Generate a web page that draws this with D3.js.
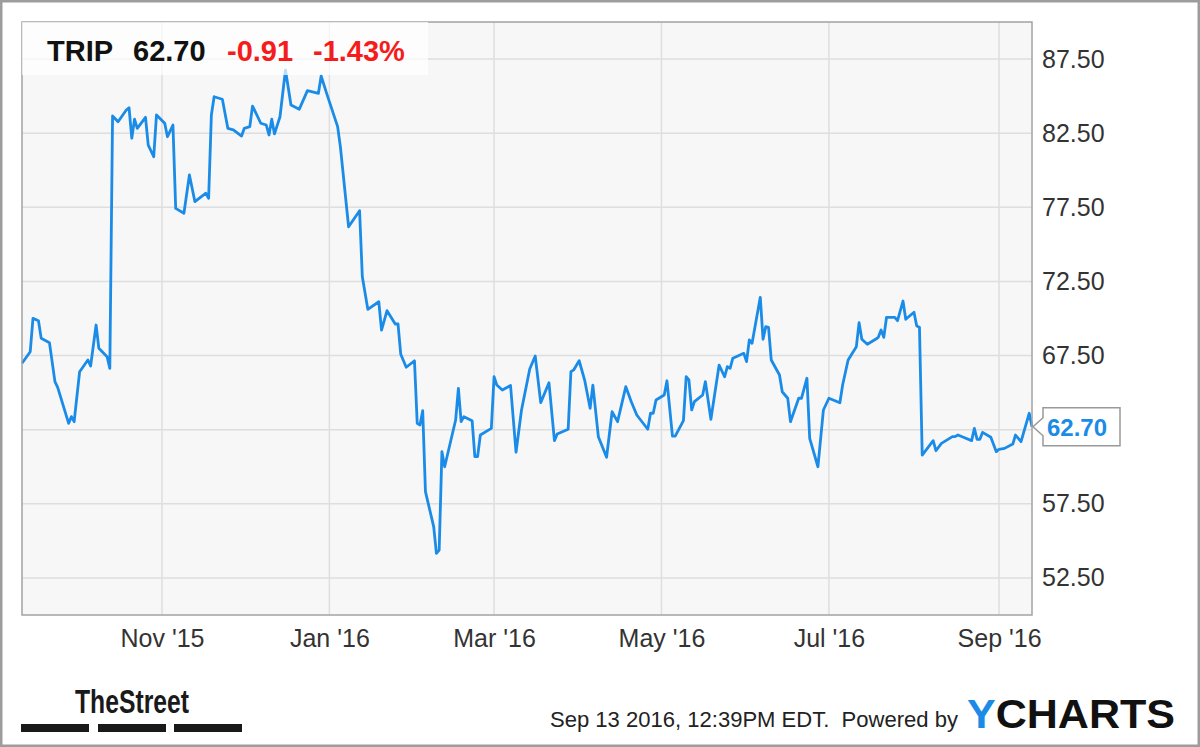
<!DOCTYPE html>
<html>
<head>
<meta charset="utf-8">
<script src="https://cdn.jsdelivr.net/npm/d3@7"></script>
<style>
  body { margin: 0; background: #fff; }
  svg { display: block; font-family: "Liberation Sans", Arial, sans-serif; }
</style>
</head>
<body>
<svg id="chart" width="1200" height="747"></svg>
<script>
// closing prices
var dates = [
  '2015-09-11','2015-09-14','2015-09-15','2015-09-17','2015-09-18','2015-09-21','2015-09-23','2015-09-24','2015-09-28','2015-09-29',
  '2015-09-30','2015-10-02','2015-10-05','2015-10-06','2015-10-08','2015-10-09','2015-10-12','2015-10-13','2015-10-14','2015-10-16',
  '2015-10-19','2015-10-20','2015-10-21','2015-10-22','2015-10-23','2015-10-26','2015-10-27','2015-10-29','2015-10-30','2015-11-02',
  '2015-11-03','2015-11-05','2015-11-06','2015-11-09','2015-11-11','2015-11-13','2015-11-17','2015-11-18','2015-11-19','2015-11-20',
  '2015-11-23','2015-11-25','2015-11-27','2015-11-30','2015-12-01','2015-12-03','2015-12-04','2015-12-07','2015-12-09','2015-12-10',
  '2015-12-11','2015-12-12','2015-12-14','2015-12-16','2015-12-18','2015-12-21','2015-12-24','2015-12-28','2015-12-29','2015-12-31',
  '2016-01-04','2016-01-05','2016-01-08','2016-01-12','2016-01-13','2016-01-15','2016-01-19','2016-01-20','2016-01-22','2016-01-25',
  '2016-01-26','2016-01-27','2016-01-29','2016-02-01','2016-02-02','2016-02-03','2016-02-04','2016-02-05','2016-02-08','2016-02-09',
  '2016-02-10','2016-02-11','2016-02-12','2016-02-16','2016-02-17','2016-02-18','2016-02-19','2016-02-22','2016-02-23','2016-02-24',
  '2016-02-25','2016-02-29','2016-03-01','2016-03-02','2016-03-04','2016-03-07','2016-03-09','2016-03-11','2016-03-14','2016-03-16',
  '2016-03-18','2016-03-21','2016-03-23','2016-03-24','2016-03-28','2016-03-29','2016-03-30','2016-04-01','2016-04-03','2016-04-05',
  '2016-04-06','2016-04-08','2016-04-11','2016-04-13','2016-04-15','2016-04-18','2016-04-20','2016-04-22','2016-04-26','2016-04-27',
  '2016-04-28','2016-04-29','2016-05-02','2016-05-03','2016-05-05','2016-05-06','2016-05-09','2016-05-10','2016-05-11','2016-05-12',
  '2016-05-13','2016-05-16','2016-05-17','2016-05-19','2016-05-22','2016-05-24','2016-05-25','2016-05-26','2016-05-27','2016-05-31',
  '2016-06-01','2016-06-02','2016-06-03','2016-06-06','2016-06-07','2016-06-08','2016-06-09','2016-06-10','2016-06-13','2016-06-14',
  '2016-06-16','2016-06-17','2016-06-20','2016-06-21','2016-06-23','2016-06-24','2016-06-27','2016-06-29','2016-07-01','2016-07-05',
  '2016-07-06','2016-07-08','2016-07-11','2016-07-12','2016-07-13','2016-07-15','2016-07-18','2016-07-19','2016-07-20','2016-07-21',
  '2016-07-22','2016-07-25','2016-07-26','2016-07-28','2016-07-29','2016-08-01','2016-08-02','2016-08-03','2016-08-04','2016-08-08',
  '2016-08-09','2016-08-11','2016-08-15','2016-08-16','2016-08-17','2016-08-19','2016-08-22','2016-08-23','2016-08-24','2016-08-25',
  '2016-08-26','2016-08-29','2016-08-31','2016-09-01','2016-09-03','2016-09-06','2016-09-07','2016-09-09','2016-09-12','2016-09-13'
];

var prices = [
  66.98, 67.76, 70.01, 69.85, 68.66, 68.37, 65.74, 65.36, 62.93, 63.38,
  63.04, 66.41, 67.20, 66.80, 69.56, 67.99, 67.42, 66.64, 83.66, 83.27,
  84.06, 84.22, 82.16, 83.44, 82.83, 83.57, 81.70, 80.91, 83.73, 83.17,
  82.26, 83.05, 77.43, 77.10, 79.68, 77.88, 78.45, 78.11, 83.73, 84.96,
  84.79, 82.83, 82.72, 82.31, 82.83, 82.94, 84.33, 83.17, 83.05, 82.38,
  83.44, 82.45, 83.61, 86.76, 84.40, 84.11, 85.37, 85.19, 86.36, 85.19,
  82.94, 81.59, 76.19, 77.27, 72.82, 70.62, 71.13, 69.22, 70.53, 69.63,
  69.63, 67.59, 66.71, 67.15, 62.93, 62.82, 63.78, 58.32, 55.96, 54.16,
  54.38, 61.02, 60.00, 63.15, 65.29, 63.04, 63.38, 63.11, 60.68, 60.68,
  62.14, 62.59, 66.07, 65.51, 65.18, 65.48, 60.98, 63.83, 66.59, 67.47,
  64.32, 65.67, 61.76, 62.21, 62.53, 66.41, 66.53, 67.15, 65.85, 63.94,
  65.51, 62.03, 60.64, 63.71, 63.04, 65.40, 64.39, 63.49, 62.53, 63.61,
  63.61, 64.50, 64.84, 65.80, 62.07, 62.07, 63.11, 66.07, 65.85, 63.83,
  64.39, 64.84, 65.74, 63.20, 66.86, 66.07, 66.75, 66.64, 67.32, 67.65,
  67.09, 68.55, 68.33, 71.43, 68.60, 69.45, 69.41, 67.20, 66.19, 65.06,
  64.62, 63.04, 64.62, 64.62, 65.97, 61.92, 60.00, 63.83, 64.62, 64.32,
  65.51, 67.20, 68.10, 69.72, 68.60, 68.26, 68.60, 68.73, 69.22, 68.73,
  70.08, 70.08, 69.85, 71.18, 69.95, 70.42, 69.49, 69.41, 60.79, 61.76,
  61.08, 61.58, 62.03, 62.03, 62.14, 61.99, 61.76, 62.59, 61.85, 61.85,
  62.32, 61.99, 61.02, 61.18, 61.24, 61.53, 62.14, 61.69, 63.61, 62.70
];

var xTickDates = ['2015-11-01', '2016-01-01', '2016-03-01', '2016-05-01', '2016-07-01', '2016-09-01'];
var yGridValues = [52.5, 57.5, 62.5, 67.5, 72.5, 77.5, 82.5, 87.5];
// 62.50 is hidden behind the last-price flag in the reference
var yLabelValues = [52.5, 57.5, 67.5, 72.5, 77.5, 82.5, 87.5];
var dateRange = ['2015-09-11', '2016-09-13'];
var priceRange = [50, 90];

var ticker = 'TRIP',
    lastPrice = 62.70,
    change = -0.91,
    changePct = -1.43;

function init() {
  var parse = d3.timeParse('%Y-%m-%d');
  var data = dates.map(function(d, i) { return { date: parse(d), price: prices[i] }; });

  var left = 22, top = 22, right = 1032, bottom = 615;
  var blue = '#1b8be8';

  var svg = d3.select('#chart');

  var x = d3.scaleTime()
    .domain(dateRange.map(parse))
    .range([left, right]);

  var y = d3.scaleLinear()
    .domain(priceRange)
    .range([bottom, top]);

  // outer frame
  svg.append('rect')
      .attr('x', 1.25).attr('y', 1.25)
      .attr('width', 1197.5).attr('height', 744.5)
      .attr('fill', '#fff')
      .attr('stroke', '#9d9d9d')
      .attr('stroke-width', 2.5);

  // plot background
  svg.append('rect')
      .attr('x', left).attr('y', top)
      .attr('width', right - left).attr('height', bottom - top)
      .attr('fill', '#f7f7f7');

  // grid
  var grid = svg.append('g').attr('class', 'grid')
      .attr('stroke', '#dedede')
      .attr('stroke-width', 1.5);

  grid.selectAll('line.h').data(yGridValues)
    .enter().append('line')
      .attr('class', 'h')
      .attr('x1', left).attr('x2', right)
      .attr('y1', function(d) { return y(d); })
      .attr('y2', function(d) { return y(d); });

  grid.selectAll('line.v').data(xTickDates.map(parse))
    .enter().append('line')
      .attr('class', 'v')
      .attr('x1', function(d) { return x(d); })
      .attr('x2', function(d) { return x(d); })
      .attr('y1', top).attr('y2', bottom);

  // price line
  var line = d3.line()
    .x(function(d) { return x(d.date); })
    .y(function(d) { return y(d.price); });

  svg.append('path')
      .datum(data)
      .attr('d', line)
      .attr('fill', 'none')
      .attr('stroke', blue)
      .attr('stroke-width', 2.8)
      .attr('stroke-linejoin', 'round');

  // plot border
  svg.append('rect')
      .attr('x', left).attr('y', top)
      .attr('width', right - left).attr('height', bottom - top)
      .attr('fill', 'none')
      .attr('stroke', '#a3a3a3')
      .attr('stroke-width', 1.5);

  // axes
  var yAxis = d3.axisRight(y)
    .tickValues(yLabelValues)
    .tickSize(0)
    .tickPadding(10)
    .tickFormat(d3.format('.2f'));

  var gy = svg.append('g')
      .attr('transform', 'translate(' + right + ',0)')
      .call(yAxis);
  gy.select('.domain').remove();
  gy.selectAll('text')
      .attr('font-family', '"Liberation Sans", Arial, sans-serif')
      .attr('font-size', 25)
      .attr('fill', '#333');

  var xAxis = d3.axisBottom(x)
    .tickValues(xTickDates.map(parse))
    .tickSize(0)
    .tickPadding(14)
    .tickFormat(d3.timeFormat("%b '%y"));

  var gx = svg.append('g')
      .attr('transform', 'translate(0,' + bottom + ')')
      .call(xAxis);
  gx.select('.domain').remove();
  gx.selectAll('text')
      .attr('font-family', '"Liberation Sans", Arial, sans-serif')
      .attr('font-size', 25)
      .attr('fill', '#333');

  // header
  svg.append('rect')
      .attr('x', left).attr('y', top)
      .attr('width', 406).attr('height', 53)
      .attr('fill', '#fff')
      .attr('fill-opacity', 0.7);

  var header = svg.append('g')
      .attr('font-size', 29)
      .attr('font-weight', 'bold');
  header.append('text').attr('x', 47).attr('y', 61).attr('fill', '#111').text(ticker);
  header.append('text').attr('x', 133).attr('y', 61).attr('fill', '#111').text(lastPrice.toFixed(2));
  header.append('text').attr('x', 227).attr('y', 61).attr('fill', '#f51c1c').text(change.toFixed(2));
  header.append('text').attr('x', 313).attr('y', 61).attr('fill', '#f51c1c').text(changePct.toFixed(2) + '%');

  // last price flag
  var ly = y(lastPrice);
  svg.append('path')
      .attr('d', 'M1043,' + (ly - 9) + 'L1033,' + ly + 'L1043,' + (ly + 9) +
                 'L1043,' + (ly + 19) + 'L1120,' + (ly + 19) + 'L1120,' + (ly - 19) +
                 'L1043,' + (ly - 19) + 'Z')
      .attr('fill', '#fff')
      .attr('stroke', '#999')
      .attr('stroke-width', 1.5);
  svg.append('text')
      .attr('x', 1047).attr('y', ly + 9)
      .attr('font-size', 24)
      .attr('font-weight', 'bold')
      .attr('fill', blue)
      .text(lastPrice.toFixed(2));

  // footer: TheStreet logo
  svg.append('text')
      .attr('x', 75).attr('y', 713)
      .attr('font-family', '"Liberation Sans Narrow", "Liberation Sans", Arial, sans-serif')
      .attr('font-size', 34)
      .attr('font-weight', 'bold')
      .attr('fill', '#1a1a1a')
      .attr('textLength', 114)
      .attr('lengthAdjust', 'spacingAndGlyphs')
      .text('TheStreet');

  svg.selectAll('rect.bar').data([21, 98, 174])
    .enter().append('rect')
      .attr('class', 'bar')
      .attr('x', function(d) { return d; })
      .attr('y', 724)
      .attr('width', 68)
      .attr('height', 8)
      .attr('fill', '#1a1a1a');

  // footer: timestamp and ycharts
  svg.append('text')
      .attr('x', 550).attr('y', 727)
      .attr('font-size', 22)
      .attr('fill', '#222')
      .attr('textLength', 408)
      .attr('lengthAdjust', 'spacingAndGlyphs')
      .style('white-space', 'pre')
      .text('Sep 13 2016, 12:39PM EDT.  Powered by');

  var yc = svg.append('text')
      .attr('x', 967).attr('y', 728)
      .attr('font-size', 40)
      .attr('font-weight', 'bold')
      .attr('textLength', 208)
      .attr('lengthAdjust', 'spacingAndGlyphs');
  yc.append('tspan').attr('fill', '#1b8be8').text('Y');
  yc.append('tspan').attr('fill', '#111').text('CHARTS');
}

init();
</script>
</body>
</html>
